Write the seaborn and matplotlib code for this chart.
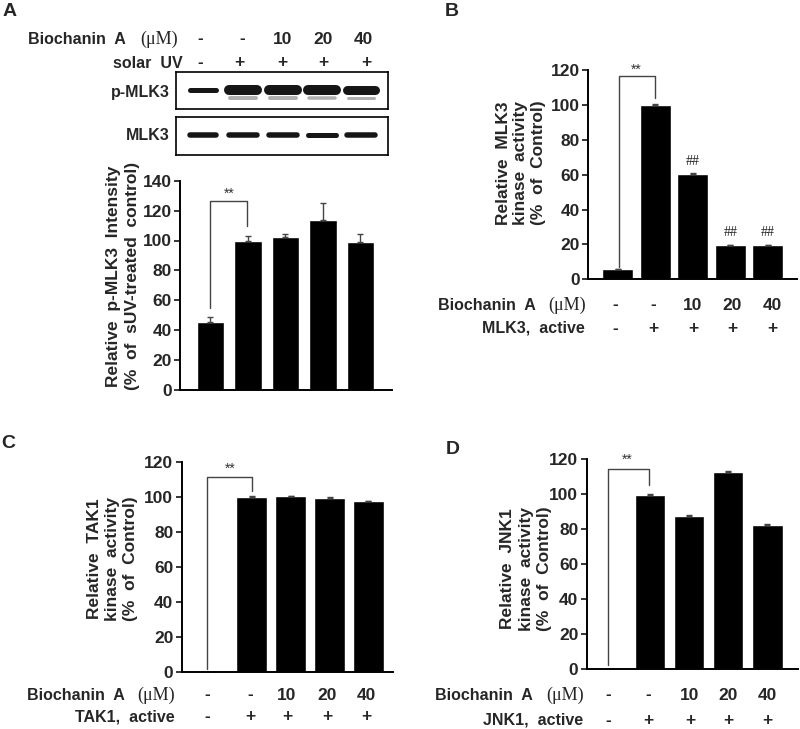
import numpy as np
import pandas as pd
import matplotlib
matplotlib.use("Agg")
import matplotlib.pyplot as plt
import seaborn as sns

# ---------------- data ----------------
lanes = ["ctrl", "sUV", "10", "20", "40"]
dose_labels = ["-", "-", "10", "20", "40"]
active_labels = ["-", "+", "+", "+", "+"]

a_values = [45.3, 100.0, 102.3, 113.5, 98.7]
a_errors = [3.5, 3.0, 2.0, 11.5, 5.5]

b_values = [5.8, 100.0, 60.3, 19.4, 19.4]
b_errors = [0.3, 0.3, 0.4, 0.3, 0.3]
b_marks = ["", "", "##", "##", "##"]

c_values = [0.0, 100.0, 100.2, 99.3, 97.5]
c_errors = [0.0, 0.3, 0.3, 0.3, 0.3]

d_values = [0.3, 99.6, 87.6, 112.5, 82.6]
d_errors = [0.0, 0.5, 0.3, 0.8, 0.6]

# western blot band strength (thickness, px)
p_mlk3_band = [5, 10, 10, 10, 9]
p_mlk3_sub = [0, 4, 4, 3.5, 3]
mlk3_band = [5.5, 5.5, 5.5, 5, 5.5]

W, H = 800, 729
sns.set_style("ticks")
plt.rcParams["font.family"] = ["Liberation Sans", "DejaVu Sans"]

fig = plt.figure(figsize=(W / 100, H / 100), dpi=100)


def fx(x):
    return x / W


def fy(y):
    return 1 - y / H


def add_ax(x0, y0, x1, y1):
    return fig.add_axes([fx(x0), fy(y1), fx(x1) - fx(x0), fy(y0) - fy(y1)])


def txt(x, y, s, size=12.5, weight="bold", ha="center", va="center", family=None, **kw):
    kws = dict(fontsize=size, fontweight=weight, ha=ha, va=va)
    if family:
        kws["family"] = family
    kws.update(kw)
    fig.text(fx(x), fy(y), s, **kws)


def bar_panel(box, values, errors, width, xlim, ymax, yticks, bracket, star_xy):
    ax = add_ax(*box)
    df = pd.DataFrame({"lane": lanes, "value": values})
    sns.barplot(data=df, x="lane", y="value", order=lanes, color="black",
                saturation=1, width=width, errorbar=None, ax=ax)
    err_lo = [0] * len(errors)
    ax.errorbar(range(len(values)), values, yerr=[err_lo, errors], fmt="none",
                ecolor="#444444", elinewidth=1.0, capsize=2.5, capthick=1.0)
    ax.set_xlim(*xlim)
    ax.set_ylim(0, ymax)
    ax.set_yticks(yticks)
    ax.set_xticks([])
    ax.set_xlabel("")
    ax.set_ylabel("")
    sns.despine(ax=ax)
    for s in ["left", "bottom"]:
        ax.spines[s].set_linewidth(1.4)
        ax.spines[s].set_color("black")
    ax.tick_params(axis="y", direction="out", length=4, width=1.3,
                   labelsize=12.5, pad=2)
    for lab in ax.get_yticklabels():
        lab.set_fontweight("bold")
    (x1, y1), (xm, ym), (x2, y2) = bracket
    ax.plot([x1, x1, x2, x2], [y1, ym, ym, y2], color="#444444", lw=1.0,
            clip_on=False)
    ax.text(star_xy[0], star_xy[1], "**", ha="center", va="center",
            fontsize=10, color="#333333")
    return ax


# ---------------- Panel A ----------------
txt(10, 12, "A", size=14)
for (y0, y1, bands, sub, yc) in [(72, 109, p_mlk3_band, p_mlk3_sub, 90),
                                 (117, 155, mlk3_band, None, 135)]:
    bax = add_ax(176, y0, 388, y1)
    bax.set_xlim(176, 388)
    bax.set_ylim(y1, y0)
    bax.set_xticks([])
    bax.set_yticks([])
    for s in bax.spines.values():
        s.set_linewidth(1.2)
        s.set_color("black")
    centers = [203, 243, 283, 322, 361]
    for i, (cx, th) in enumerate(zip(centers, bands)):
        hw = 14 if i > 0 else 13
        if sub is not None and sub[i] > 0:
            bax.plot([cx - hw + 1, cx + hw - 1], [yc + 8, yc + 8],
                     color="#b0b0b0", lw=sub[i] * 0.72, solid_capstyle="round")
        bax.plot([cx - hw, cx + hw], [yc, yc], color="#161616",
                 lw=th * 0.72, solid_capstyle="round")

blot_x_top = [200, 242, 283, 323, 363]
blot_x_uv = [200, 239, 282, 323, 366]
txt(126, 39, "Biochanin  A", size=11.5, ha="right")
txt(159, 39, "(μM)", weight="normal", family=["Liberation Serif"], size=13)
for x, s in zip(blot_x_top, dose_labels):
    txt(x, 39, s)
txt(183, 63, "solar  UV", size=11.5, ha="right")
for x, s in zip(blot_x_uv, active_labels):
    txt(x, 63, s)
txt(170, 92, "p-MLK3", size=11.5, ha="right")
txt(170, 135, "MLK3", size=11.5, ha="right")

bar_panel((180, 180.7, 392, 390), a_values, a_errors, 0.73, (-0.813, 4.84), 140,
          range(0, 141, 20),
          [(0, 55), (0, 126.5), (0.97, 110)], (0.5, 131))
txt(123, 276, "Relative  p-MLK3  Intensity\n(%  of  sUV-treated  control)",
    rotation=90, linespacing=1.3)

# ---------------- Panel B ----------------
txt(452, 12, "B", size=14)
axb = bar_panel((588.3, 70, 796.7, 279.3), b_values, b_errors, 0.83, (-0.79, 4.77), 120,
                range(0, 121, 20),
                [(0.03, 7.3), (0.03, 116.5), (0.98, 104)], (0.5, 120))
for i, (v, m) in enumerate(zip(b_values, b_marks)):
    if m:
        axb.text(i, v + 3.5, m, ha="center", va="bottom", fontsize=10,
                 family=["Liberation Serif"], color="#222222")
txt(521, 163, "Relative  MLK3\nkinase  activity\n(%  of  Control)",
    rotation=90, linespacing=1.25)
b_lane_x = [615, 653, 693, 732, 772]
txt(536, 305, "Biochanin  A", size=11.5, ha="right")
txt(567, 305, "(μM)", weight="normal", family=["Liberation Serif"], size=13)
for x, s in zip(b_lane_x, dose_labels):
    txt(x, 305, s)
txt(585, 328, "MLK3,  active", size=11.5, ha="right")
for x, s in zip(b_lane_x, active_labels):
    txt(x, 328, s)

# ---------------- Panel C ----------------
txt(8, 443, "C", size=14)
bar_panel((181.7, 461.7, 393, 671.7), c_values, c_errors, 0.8, (-0.80, 4.63), 120,
          range(0, 121, 20),
          [(-0.15, 1.5), (-0.15, 111.3), (1.0, 103.5)], (0.45, 116))
txt(112, 559, "Relative  TAK1\nkinase  activity\n(%  of  Control)",
    rotation=90, linespacing=1.25)
c_lane_x = [207, 250, 287, 327, 366]
txt(125, 695, "Biochanin  A", size=11.5, ha="right")
txt(156, 695, "(μM)", weight="normal", family=["Liberation Serif"], size=13)
for x, s in zip(c_lane_x, dose_labels):
    txt(x, 695, s)
txt(175, 717, "TAK1,  active", size=11.5, ha="right")
for x, s in zip(c_lane_x, active_labels):
    txt(x, 717, s)

# ---------------- Panel D ----------------
txt(453, 449, "D", size=14)
bar_panel((586.7, 459.3, 798, 669.3), d_values, d_errors, 0.77, (-0.62, 4.78), 120,
          range(0, 121, 20),
          [(-0.07, 2.5), (-0.07, 114.3), (0.96, 105.3)], (0.41, 119.5))
txt(526, 569, "Relative  JNK1\nkinase  activity\n(%  of  Control)",
    rotation=90, linespacing=1.25)
d_lane_x = [608, 648, 690, 728, 767]
txt(533, 695, "Biochanin  A", size=11.5, ha="right")
txt(565, 695, "(μM)", weight="normal", family=["Liberation Serif"], size=13)
for x, s in zip(d_lane_x, dose_labels):
    txt(x, 695, s)
txt(583, 720, "JNK1,  active", size=11.5, ha="right")
for x, s in zip(d_lane_x, active_labels):
    txt(x, 720, s)

fig.savefig("out.png", dpi=100)
